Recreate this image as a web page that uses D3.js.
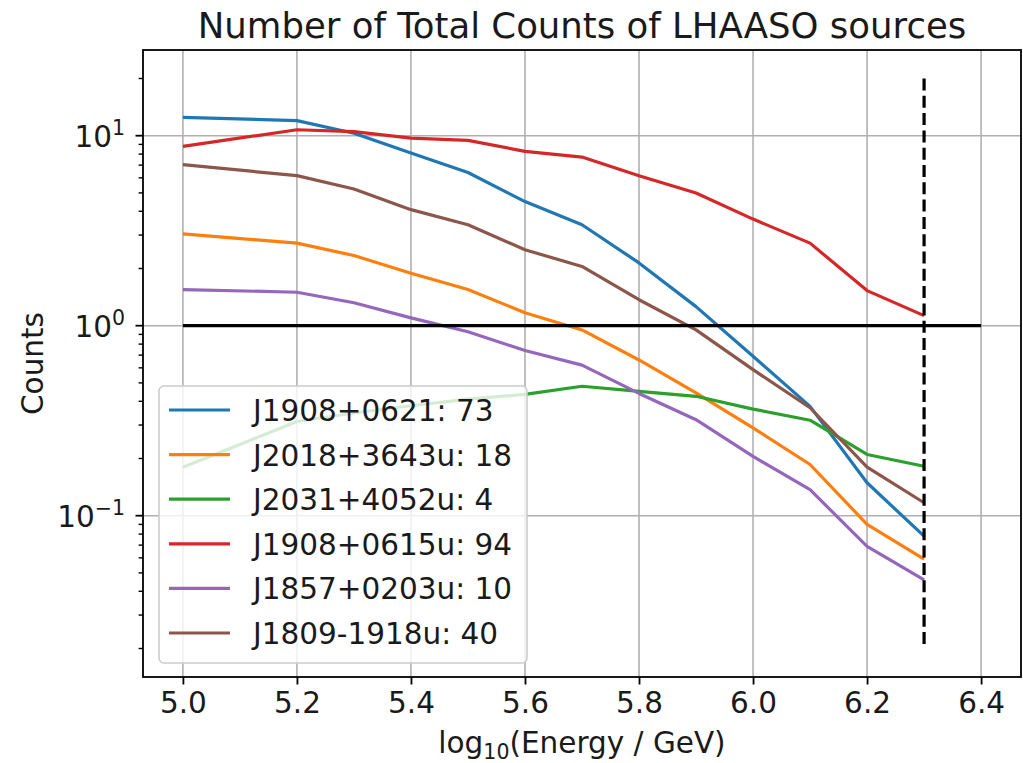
<!DOCTYPE html>
<html>
<head>
<meta charset="utf-8">
<script src="https://cdn.jsdelivr.net/npm/d3@7"></script>
<style>
  body { margin: 0; background: white; }
  text { font-family: "DejaVu Sans", sans-serif; fill: #1a1a1a; }
</style>
</head>
<body>
<div id="container"></div>
<script>
// energy bins (log10 E / GeV)
let energy = [5.0, 5.2, 5.3, 5.4, 5.5, 5.6, 5.7, 5.8, 5.9, 6.0, 6.1, 6.2, 6.3];

let sourceNames = ["J1908+0621: 73", "J2018+3643u: 18", "J2031+4052u: 4",
                   "J1908+0615u: 94", "J1857+0203u: 10", "J1809-1918u: 40"];

let countsJ1908_0621 = [12.5, 12.0, 10.3, 8.1, 6.4, 4.5, 3.4, 2.14, 1.26, 0.69, 0.376, 0.149, 0.078];
let countsJ2018_3643 = [3.04, 2.72, 2.34, 1.89, 1.55, 1.17, 0.95, 0.66, 0.443, 0.29, 0.186, 0.09, 0.059];
let countsJ2031_4052 = [0.18, 0.313, 0.347, 0.379, 0.411, 0.435, 0.48, 0.451, 0.425, 0.364, 0.318, 0.21, 0.182];
let countsJ1908_0615 = [8.78, 10.75, 10.5, 9.72, 9.45, 8.27, 7.72, 6.16, 4.99, 3.64, 2.72, 1.53, 1.13];
let countsJ1857_0203 = [1.55, 1.50, 1.32, 1.10, 0.93, 0.74, 0.62, 0.44, 0.32, 0.205, 0.137, 0.069, 0.046];
let countsJ1809_1918 = [7.04, 6.16, 5.24, 4.08, 3.40, 2.51, 2.05, 1.37, 0.95, 0.587, 0.37, 0.18, 0.117];

let allCounts = [countsJ1908_0621, countsJ2018_3643, countsJ2031_4052,
                 countsJ1908_0615, countsJ1857_0203, countsJ1809_1918];

let xTicks = [5.0, 5.2, 5.4, 5.6, 5.8, 6.0, 6.2, 6.4];
let yTickPowers = [-1, 0, 1];

// reference lines
let hlineY = 1;
let hlineX = [5.0, 6.4];
let vlineX = 6.3;
let vlineY = [0.02, 20];

let colors = ["#1f77b4", "#ff7f0e", "#2ca02c", "#d62728", "#9467bd", "#8c564b"];

let w = 1023;
let h = 763;
let padLeft = 143, padRight = 1021, padTop = 50, padBottom = 677;
let fs = 29.5; // tick / label font size

let viz = d3.select("#container")
  .append("svg")
    .attr("width", w)
    .attr("height", h)
;

let xScale = d3.scaleLinear().domain([4.93, 6.47]).range([padLeft, padRight]);
// matplotlib style 5% margin in log space around [0.02, 20]
let yScale = d3.scaleLog()
  .domain([0.02 / Math.pow(10, 0.15), 20 * Math.pow(10, 0.15)])
  .range([padBottom, padTop]);

// grid
let gridGroup = viz.append("g").attr("class", "grid");
gridGroup.selectAll(".vgrid").data(xTicks).enter()
  .append("line")
    .attr("x1", d => xScale(d)).attr("x2", d => xScale(d))
    .attr("y1", padTop).attr("y2", padBottom)
    .attr("stroke", "#b0b0b0").attr("stroke-width", 1.6);
gridGroup.selectAll(".hgrid").data(yTickPowers).enter()
  .append("line")
    .attr("x1", padLeft).attr("x2", padRight)
    .attr("y1", d => yScale(Math.pow(10, d))).attr("y2", d => yScale(Math.pow(10, d)))
    .attr("stroke", "#b0b0b0").attr("stroke-width", 1.6);

// series
let lineMaker = d3.line()
  .x(function(d, i){ return xScale(energy[i]); })
  .y(function(d){ return yScale(d); })
;

let graphGroup = viz.append("g").attr("class", "graphGroup");
graphGroup.selectAll(".line").data(allCounts).enter()
  .append("path")
    .attr("class", "line")
    .attr("d", lineMaker)
    .attr("fill", "none")
    .attr("stroke", (d, i) => colors[i])
    .attr("stroke-width", 3.2)
    .attr("stroke-linejoin", "round")
;

// y = 1 line and dashed energy cut
graphGroup.append("line")
  .attr("x1", xScale(hlineX[0])).attr("x2", xScale(hlineX[1]))
  .attr("y1", yScale(hlineY)).attr("y2", yScale(hlineY))
  .attr("stroke", "black").attr("stroke-width", 3.2);
graphGroup.append("line")
  .attr("x1", xScale(vlineX)).attr("x2", xScale(vlineX))
  .attr("y1", yScale(vlineY[1])).attr("y2", yScale(vlineY[0]))
  .attr("stroke", "black").attr("stroke-width", 3.2)
  .attr("stroke-dasharray", "12,5.3");

// spines
viz.append("rect")
  .attr("x", padLeft).attr("y", padTop)
  .attr("width", padRight - padLeft).attr("height", padBottom - padTop)
  .attr("fill", "none").attr("stroke", "black").attr("stroke-width", 1.8);

// x axis
let xAxis = d3.axisBottom(xScale).tickValues(xTicks)
  .tickFormat(d3.format(".1f")).tickSize(7.5).tickPadding(8);
let xAxisGroup = viz.append("g")
  .attr("class", "xaxisgroup")
  .attr("transform", "translate(0," + padBottom + ")")
  .call(xAxis);
xAxisGroup.select(".domain").remove();
xAxisGroup.selectAll(".tick line").attr("stroke", "black").attr("stroke-width", 1.8);
xAxisGroup.selectAll(".tick text")
  .style("font-family", "DejaVu Sans").style("font-size", fs + "px").attr("fill", "#1a1a1a");

// y axis: major ticks + log minor ticks
let minorTicks = [];
[-2, -1, 0, 1].forEach(function(p){
  for (let k = 2; k < 10; k++){
    let v = k * Math.pow(10, p);
    if (v > yScale.domain()[0] && v < yScale.domain()[1]) minorTicks.push(v);
  }
});
let yAxisGroup = viz.append("g").attr("class", "yaxisgroup");
yAxisGroup.selectAll(".minor").data(minorTicks).enter()
  .append("line")
    .attr("x1", padLeft - 4.4).attr("x2", padLeft)
    .attr("y1", d => yScale(d)).attr("y2", d => yScale(d))
    .attr("stroke", "black").attr("stroke-width", 1.4);
yAxisGroup.selectAll(".major").data(yTickPowers).enter()
  .append("line")
    .attr("x1", padLeft - 7.5).attr("x2", padLeft)
    .attr("y1", d => yScale(Math.pow(10, d))).attr("y2", d => yScale(Math.pow(10, d)))
    .attr("stroke", "black").attr("stroke-width", 1.8);
let yLabels = yAxisGroup.selectAll(".ylab").data(yTickPowers).enter()
  .append("text")
    .attr("x", padLeft - 18)
    .attr("y", d => yScale(Math.pow(10, d)) + 11)
    .attr("text-anchor", "end")
    .style("font-size", fs + "px");
yLabels.append("tspan").text("10");
yLabels.append("tspan")
  .attr("dy", -12)
  .style("font-size", "20.5px")
  .text(d => d < 0 ? "\u2212" + Math.abs(d) : String(d));

// titles
viz.append("text")
  .attr("x", (padLeft + padRight) / 2).attr("y", 38)
  .attr("text-anchor", "middle")
  .style("font-size", "35.5px")
  .text("Number of Total Counts of LHAASO sources");

let xLabel = viz.append("text")
  .attr("x", (padLeft + padRight) / 2).attr("y", 753)
  .attr("text-anchor", "middle")
  .style("font-size", fs + "px");
xLabel.append("tspan").text("log");
xLabel.append("tspan").attr("dy", 6).style("font-size", "20.5px").text("10");
xLabel.append("tspan").attr("dy", -6).text("(Energy / GeV)");

viz.append("text")
  .attr("transform", "translate(43," + ((padTop + padBottom) / 2) + ") rotate(-90)")
  .attr("text-anchor", "middle")
  .style("font-size", fs + "px")
  .text("Counts");

// legend
let legend = viz.append("g").attr("class", "legend");
legend.append("rect")
  .attr("x", 159).attr("y", 386)
  .attr("width", 368).attr("height", 277)
  .attr("rx", 5)
  .attr("fill", "white").attr("fill-opacity", 0.8)
  .attr("stroke", "#cccccc").attr("stroke-width", 1.6);
let rows = legend.selectAll(".row").data(sourceNames).enter()
  .append("g")
    .attr("transform", (d, i) => "translate(0," + (410 + i * 44.6) + ")");
rows.append("line")
  .attr("x1", 169).attr("x2", 230)
  .attr("stroke", (d, i) => colors[i]).attr("stroke-width", 3.2);
rows.append("text")
  .attr("x", 253).attr("y", 11)
  .style("font-size", "29.5px")
  .text(d => d);
</script>
</body>
</html>
